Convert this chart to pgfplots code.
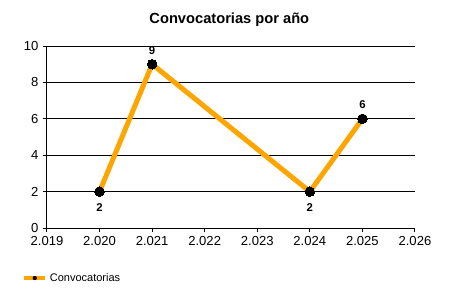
\documentclass[border=0pt]{standalone}
\usepackage{fontspec}
\setmainfont{Liberation Sans}
\usepackage{pgfplots}
\pgfplotsset{compat=1.18}
\definecolor{lineorange}{RGB}{255,165,0}
\begin{document}
\begin{tikzpicture}
\path[use as bounding box] (0,0) rectangle (337.5pt,-225pt);
\node[font=\fontsize{11}{13}\selectfont\bfseries] at (172pt,-14.5pt) {Convocatorias por año};
\begin{axis}[
  at={(35.25pt,-171pt)}, anchor=south west,
  scale only axis, width=276pt, height=136.5pt,
  xmin=2019, xmax=2026, ymin=0, ymax=10,
  xtick={2019,...,2026},
  xticklabels={2.019,2.020,2.021,2.022,2.023,2.024,2.025,2.026},
  ytick={0,2,4,6,8,10},
  axis lines*=left,
  axis line style={black, line width=0.75pt},
  ymajorgrids, grid style={black, line width=0.75pt},
  tick style={black, line width=0.75pt},
  tick align=outside, major tick length=3pt,
  tick label style={font=\fontsize{9.8}{11}\selectfont},
  /pgf/number format/assume math mode=true,
  clip=false,
  legend style={at={(-0.068,-0.275)}, anchor=west, draw=none, fill=none,
    font=\fontsize{8.25}{10}\selectfont, inner sep=0pt},
  legend cell align=left,
  legend image code/.code={
    \draw[lineorange, line width=3pt] (0pt,0pt) -- (15.75pt,0pt);
    \path[draw=none, fill=black] (7.9pt,0pt) circle (1.6pt);
  },
]
\addplot[lineorange, line width=3.75pt, mark=*, mark size=3.6pt,
  mark options={fill=black, draw=black, line width=0pt}]
  coordinates {(2020,2) (2021,9) (2024,2) (2025,6)};
\addlegendentry{Convocatorias}
\addplot[draw=none, forget plot, nodes near coords,
  every node near coord/.append style={anchor=center, yshift=10.5pt,
    font=\fontsize{8.5}{10}\selectfont\bfseries}]
  coordinates {(2021,9) (2025,6)};
\addplot[draw=none, forget plot, nodes near coords,
  every node near coord/.append style={anchor=center, yshift=-12pt,
    font=\fontsize{8.5}{10}\selectfont\bfseries}]
  coordinates {(2020,2) (2024,2)};
\end{axis}
\end{tikzpicture}
\end{document}
